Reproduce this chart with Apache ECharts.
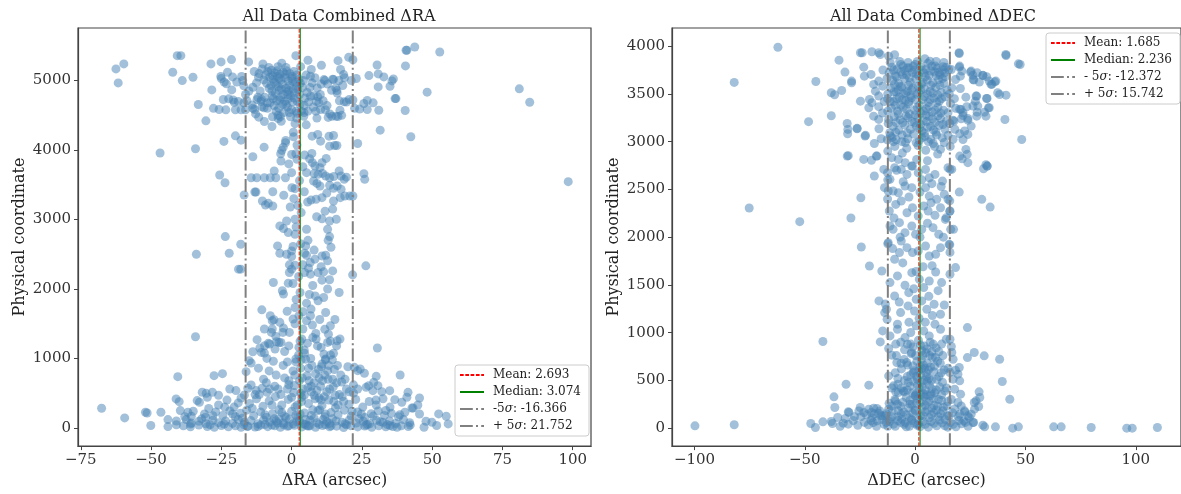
<!DOCTYPE html>
<html>
<head>
<meta charset="utf-8">
<title>All Data Combined</title>
<script src="https://cdn.jsdelivr.net/npm/echarts@6/dist/echarts.min.js"></script>
<style>
html, body { margin: 0; padding: 0; background: #fff; }
#main { width: 1181px; height: 494px; }
</style>
</head>
<body>
<div id="main"></div>
<script>
// ΔRA panel, points as [arcsec, physical coordinate]
var raTop = [
    [-62.5,5168],[-59.7,5240],[-61.7,4967],[-42.3,5120],[-40.7,5359],[-39.4,5359],[-38.9,5000],[-35.1,5048],[-33.2,4655],
    [-28.7,5240],[-28.4,4866],[-25.1,5269],[-25.2,5060],[-25.0,5030],[-21.4,5302],[-22.8,5120],[-23.2,4953],[-21.3,4866],
    [-21.0,5053],[-24.3,4727],[-22.4,4737],[-20.4,4688],[-23.4,4579],[-25.8,4583],[-17.4,5000],[-17.0,4924],[-16.4,4799],
    [-18.0,4579],[-15.3,5269],[-13.8,4904],[-12.5,4967],[-11.6,5101],[-10.2,5240],[-10.5,5168],[-12.3,4727],[-10.7,4727],
    [-13.2,4583],[-10.6,4622],[-8.7,4680],[-9.8,4608],[-11.7,4473],[-9.7,4411],[-7.0,4339],[-4.8,4454],[-3.7,4415],[-4.0,4483],
    [1.5,5359],[5.8,5292],[10.6,5220],[16.5,5287],[20.3,5335],[17.4,5160],[18.5,5086],[14.9,5014],[11.5,5014],[15.7,4895],
    [16.1,4856],[6.7,5062],[7.3,4967],[9.1,4895],[9.3,4766],[6.7,4775],[9.7,4680],[10.3,4583],[17.0,4708],[18.7,4694],
    [20.5,4727],[17.2,4573],[14.3,4487],[15.8,4487],[16.5,4483],[4.3,4487],[5.2,4363],
    [25.7,4670],[26.9,4713],[26.9,4583],[29.0,4680],[31.0,4573],[31.5,4286],[36.8,4741],[40.4,4569],[42.4,4191],[27.5,5072],
    [30.4,5225],[30.8,5096],[30.8,4909],[32.8,5053],[35.0,4918],[36.2,5024],[35.7,4995],[37.1,4741],[40.5,5211],[41.0,5436],
    [43.8,5484],[40.7,5436],[48.2,4833],[52.7,5412],[81.0,4881],[84.7,4688],
    [-8.5,5130],[-7.2,5150],[-6.0,5110],[-5.2,5140],[-4.1,5090],[-3.0,5120],[-1.8,5140],[-0.6,5100],[0.8,5130],[1.9,5080],
    [-7.8,5050],[-6.5,5020],[-5.1,5060],[-3.8,5010],[-2.4,5045],[-1.2,4990],[0.1,5030],[1.4,4980],[2.6,5020],[-8.9,4960],
    [-7.4,4930],[-6.1,4975],[-4.7,4910],[-3.3,4950],[-2.0,4890],[-0.7,4930],[0.6,4880],[1.8,4920],[3.1,4960],[-7.0,4850],
    [-5.8,4820],[-4.4,4860],[-3.0,4800],[-1.6,4840],[-0.3,4780],[1.0,4820],[-6.6,4740],[-5.3,4710],[-3.9,4760],[-2.5,4700],
    [-1.1,4740],[0.3,4690],[-7.7,4680],[-6.2,4640],[-4.6,4600],[-3.2,4660],[-1.5,4620],[0.0,4580],[1.6,4560],[3.5,4560],
    [4.4,4540],[2.0,4700],[4.8,4750],[5.5,4830],[3.8,4900],[4.2,5000],[5.2,5080],[6.0,4690],[7.7,4620],[8.6,4560],
    [11.2,4710],[12.6,4640],[13.6,4520],[11.8,5000],[12.8,4950],[14.2,4860],[10.2,4800],[10.5,4950],[8.3,5040],[-9.6,4760],
    [-10.9,4700],[-12.0,4760],[-14.0,4650],[-15.9,4710],[-11.2,4850],[-9.9,5010],[-2.0,5190],[0.2,5060],[-1.0,4860],
    [-4.8,4500],[-2.8,4540],[-0.4,4480],[1.2,4380],[2.0,4530],[5.8,4560],[9.0,4460],[13.0,4470],[17.8,4500],[16.2,4820],
    [18.2,4930],[19.5,4690],[21.8,4720],[22.4,4600],[24.2,4590],[23.0,5030],[21.2,5000],[18.8,5040],[16.8,5000],[14.6,5020],
    [-19.5,4980],[-17.8,5060],[-20.8,4720],[-19.0,4700],[-27.8,4600],[-24.0,4980],[-13.8,4600],[-30.5,4420],[21.8,5300],[-16.4,4580],
    [-9.2,5080],[-6.8,5070],[-4.5,5030],[-2.2,5090],[0.4,4990],[2.2,4870],[-8.0,4890],[-5.6,4950],[-3.6,4880],[-1.3,4800],
    [0.9,4750],[3.0,4660],[-6.9,4780],[-4.2,4720],[-2.0,4660],[-8.6,4600],[-5.5,4560],[-0.8,4540],[2.8,4800],[4.5,4640],
    [6.5,4900],[7.9,4780],[-11.8,5050],[-13.3,5130],[-8.1,5190],[-4.9,5200],[-6.8,4480],[1.8,4460],[-12.8,4520],[12.0,4580],
    [8.8,4700],[-17.0,4680],[-20.0,4580],[-15.2,4850],[7.0,5160],[3.2,5200],[-3.5,5250]
];
var raMid = [
    [7.3,4200],[9.3,4224],[10.3,4128],[13.3,4200],[14.9,4210],[16.1,4066],[13.5,4056],[15.3,4066],[0.6,4257],[0.7,4191],
    [-3.0,4042],[-2.1,4138],[-3.9,3947],[1.9,4071],[1.5,3947],[-13.8,3904],[-9.8,4042],[-24.1,4124],[-20.0,4205],[-18.0,4142],
    [23.5,4095],[-34.2,4019],[-46.8,3957],
    [98.4,3545],[-25.6,3640],[-23.7,3530],[-16.9,3353],[-14.4,3602],[-12.4,3602],[-9.7,3602],[-7.6,3602],[-5.6,3602],
    [-2.2,3602],[0.0,3674],[-13.1,3396],[-12.7,3396],[-6.7,3400],[-10.4,3267],[-9.3,3209],[-8.3,3233],[-6.7,3195],
    [-3.8,3842],[-3.5,3995],[-2.2,4105],[0.0,3937],[1.9,3866],[1.2,3444],[0.1,3458],[4.6,3928],[6.4,3875],[7.4,3818],
    [8.3,3770],[10.1,3746],[10.8,3818],[8.0,3660],[9.4,3650],[11.0,3664],[12.1,3626],[13.5,3602],[5.3,3674],[7.8,3554],
    [10.1,3482],[13.5,3492],[14.9,3449],[16.2,3482],[16.9,3698],[17.6,3626],[17.6,3434],[17.3,3315],[5.7,3252],[8.7,3291],
    [10.8,3315],[14.9,3267],[18.9,3339],[20.7,3339],[25.7,3660],[26.0,3578],[15.9,3003],[13.5,2979],[12.8,2860],[13.5,2754],
    [-1.8,2979],[1.2,3003],[1.6,2893],[5.3,2860],[-4.2,2908],[-2.9,2869],[-1.2,2812],[1.2,2788],[5.0,2620],[0.0,2548],
    [-4.2,2515],[0.5,2611],[0.0,2467],[-23.6,2754],[-22.2,2515],[-18.1,2644],[-18.1,2285],[-18.9,2285],[4.6,2515],[5.3,2486],
    [6.6,2381],[8.3,2429],[10.8,2476],[12.1,2486],[12.8,2405],[-0.8,2347],[0.0,2285],[1.2,2342],[4.0,2347],[4.6,2237],
    [6.7,2213],[9.4,2237],[11.4,2247],[10.8,2127],[13.5,2132],[16.9,1950],[-0.8,2237],[-1.2,2084],[0.5,2079],[-6.5,2093],
    [-3.3,1974],[-2.9,1926],[-10.6,1700],[-6.9,1542],[-2.9,1437],[-3.1,1375],[1.2,1734],[4.0,1672],[5.3,1796],[6.9,1710],
    [9.4,1830],[11.4,1878],[12.1,1662],[13.8,1471],[4.0,1423],[5.3,1542],[6.7,1614],[2.6,1614],[0.5,1566],[-0.8,1375],
    [8.7,1279],[10.5,1159],[12.8,1231],[14.9,1073],[16.2,1255],[17.2,1279],[2.6,1159],[4.6,1073],[-5.9,1135],[-8.3,1217],
    [-9.7,1078],[-11.3,1150],[-13.8,1097],[-7.2,1375],[-5.6,1317],[-7.6,1614],[-6.3,1557],[-6.9,1423],[-9.7,1423],
    [30.5,1150],[21.7,2203],[26.4,2333],[-33.9,2500],[-34.2,1312],
    [3.4,3100],[6.9,3280],[9.0,3520],[2.8,3560],[4.0,3760],[12.5,3380],[-0.5,3180],[15.0,3620],[18.7,3580],[19.5,3610],
    [10.8,3010],[13.0,2700],[14.0,2600],[6.0,2300],[8.4,1900],[12.8,2000],[3.0,1950],[1.6,1850],[7.4,1480],[10.0,1560],
    [11.8,1420],[3.6,1280],[16.0,1180],[13.1,1350],[-1.6,1680],[-4.2,1520],[-12.3,1270],[-3.8,1230],[21.8,3339],
    [2.5,1050],[4.5,1120],[9.2,1180],[11.5,1060],[13.8,1250],[7.5,1300],[3.0,1250],[-2.5,1100],[-4.5,1230],
    [-10.8,1087],[-9.6,1183],[-7.8,1207],[-5.4,1241],
    [0.8,3300],[2.2,3200],[-2.8,3350],[4.5,3400],[11.9,3120],[14.6,3150],[12.3,3880],[7.2,3950],[-6.2,3700],[-1.0,3800],
    [8.9,3040],[5.8,2700],[3.2,2650],[8.0,2560],[10.5,2320],[2.5,2180],[7.5,2050],[-1.8,2500],[-5.0,2620],[14.6,2260],
    [1.2,1500],[8.6,1360],[15.4,1560],[-1.0,1180],[5.6,1220],[13.8,1050],[-8.8,1000],[6.3,1920]
];
var raLow = [
    [-50.1,34],[-44.0,19],[-38.5,30],[-36.0,15],[-33.0,40],[-30.0,20],[-27.5,10],[-25.0,35],[-22.5,15],[-20.0,30],[-18.0,8],
    [-15.5,25],[-13.0,12],[-11.0,40],[-8.5,18],[-6.0,30],[-4.0,10],[-1.5,22],[1.0,38],[3.5,12],[6.0,28],[8.5,8],[11.0,35],
    [13.5,15],[16.0,25],[18.5,5],[21.0,32],[23.5,14],[26.0,28],[28.5,10],[31.0,30],[33.5,15],[35.0,35],[37.5,8],[41.5,20],
    [42.2,40],[47.1,10],[51.6,34],[55.7,57],[-41.0,45],[-29.0,45],[-17.0,48],[-9.5,50],[-2.8,45],[4.8,50],[12.0,48],
    [19.5,45],[27.0,50],[34.0,48],[39.0,30],
    [-41.0,100],[-37.5,120],[-35.7,70],[-33.0,95],[-30.5,60],[-28.0,110],[-26.0,75],[-23.5,100],[-21.0,65],[-19.0,120],
    [-16.8,80],[-14.5,105],[-12.0,60],[-10.0,115],[-7.8,85],[-5.5,100],[-3.0,70],[-0.8,125],[1.8,90],[4.0,60],[6.5,110],
    [9.0,75],[11.2,120],[13.5,65],[15.8,100],[18.0,80],[20.5,115],[23.0,70],[25.5,95],[27.8,60],[30.2,110],[32.5,80],
    [34.8,100],[37.0,65],[39.8,120],[42.0,75],[49.9,81],[47.8,96],
    [-67.6,283],[-59.4,144],[-52.0,225],[-51.4,215],[-46.5,225],[-39.6,249],[-36.9,225],[-35.7,168],[-31.0,200],[-30.6,153],
    [-27.0,230],[-24.5,180],[-22.0,245],[-20.0,160],[-18.2,210],[-16.0,255],[-13.5,175],[-11.0,230],[-9.0,150],[-6.8,205],
    [-4.5,260],[-2.5,170],[0.0,240],[2.2,155],[4.6,215],[7.0,180],[9.4,250],[11.8,160],[14.0,220],[16.5,190],[18.8,255],
    [21.2,170],[23.5,230],[26.0,150],[28.3,205],[30.8,245],[33.0,180],[35.5,210],[38.0,160],[40.3,225],[42.8,287],
    [45.5,200],[52.3,201],[55.0,168],
    [-41.1,417],[-40.0,378],[-33.6,393],[-32.8,369],[-30.0,440],[-26.0,330],[-23.0,400],[-20.5,300],[-18.0,430],[-15.0,350],
    [-12.5,420],[-10.2,310],[-8.0,390],[-5.8,450],[-3.5,330],[-1.2,410],[1.2,300],[3.6,440],[6.0,350],[8.4,420],[10.8,320],
    [13.2,400],[15.6,290],[18.0,450],[20.4,340],[22.8,410],[25.3,300],[27.6,380],[30.1,330],[32.5,420],[35.0,300],
    [36.7,407],[39.2,369],[41.0,441],[45.5,431],[43.2,287],[44.9,330],
    [-31.8,513],[-30.4,498],[-28.2,513],[-19.8,537],[-16.8,474],[-15.6,570],[-14.4,618],[-12.6,537],[-10.5,570],[-8.7,513],
    [-6.0,600],[-3.8,480],[-1.5,560],[1.0,610],[3.3,500],[5.8,580],[8.0,470],[10.3,600],[12.5,520],[14.8,590],[17.0,480],
    [19.5,560],[22.0,500],[26.5,584],[28.9,536],[30.7,608],[32.1,522],[34.9,536],[41.4,512],[27.4,608],[29.2,656],
    [-40.5,738],[-27.6,752],[-24.6,781],[-16.2,810],[-14.4,934],[-10.0,700],[-8.0,820],[-5.5,760],[-3.0,900],[-1.0,680],
    [1.5,950],[3.8,720],[6.0,860],[8.5,780],[10.8,920],[13.0,700],[15.2,840],[17.5,760],[20.0,880],[22.3,872],[23.5,824],
    [25.9,786],[30.1,742],[38.6,762],[24.4,848],[8.0,650],[12.0,980],[5.0,990],[0.5,820],[-6.5,960],[14.5,980],[17.8,660],
    [6.8,1000],[10.6,880],[12.8,820],[9.8,720],[6.2,680],[3.2,860],[1.1,760],[14.6,700],[16.3,900],[12.1,992],[1.5,992],
    [-15.1,968],[-2.0,150],[0.5,60],[3.0,200],[5.5,30],[8.0,140],[10.0,260],[12.5,90],[15.0,380],[-4.5,130],[-7.0,40],
    [2.0,330],[7.0,520],[9.8,430],[11.0,680],[-1.0,620],[4.0,560],
    [-36.0,55],[-32.0,130],[-28.0,175],[-24.0,55],[-21.0,200],[-17.5,140],[-14.0,280],[-12.0,20],[-9.5,190],[-7.0,330],
    [-5.0,70],[-3.5,220],[-1.0,30],[1.5,180],[3.5,380],[5.0,120],[7.5,260],[9.8,50],[12.0,200],[14.5,130],[16.5,330],
    [19.0,60],[21.5,240],[24.0,130],[26.5,40],[29.0,170],[31.5,90],[33.5,250],[36.0,20],[38.5,190],[-26.0,470],[-22.0,560],
    [-13.0,480],[-9.0,650],[-4.8,560],[-2.5,720],[2.8,680],[4.5,470],[7.0,600],[9.0,540],[11.6,450],[13.5,560],[16.0,650],
    [18.5,380],[20.5,520],[23.5,560],[-38.0,160],[-44.0,120],[-35.0,240],[-19.0,360],[-11.5,480],[0.0,440],[6.5,30],
    [10.5,400],[14.0,30],[2.8,100],[-6.2,130],[-15.8,20],[24.8,200],[30.0,400],[-29.5,280],[-23.8,300],[22.0,620],
    [15.5,470],[0.8,510],[-7.8,560],[5.5,750],[9.6,840],[11.8,760],[7.2,900],[3.4,980],[-1.5,950],[13.2,900],[-11.8,860],
    [19.0,700]
];

// ΔDEC panel
var decTop = [
    [-62.2,3989],[-82.0,3620],[41.2,3902],[47.6,3808],[48.3,3023],[40.7,3232],[41.2,3487],[38.3,3494],[36.1,3626],[34.4,3599],
    [30.7,3693],[32.4,3679],[25.1,3728],[26.3,3651],[23.0,3466],[27.6,3477],[32.4,3452],[20.5,3557],[20.8,3337],[23.4,3365],
    [28.1,3309],[27.3,3424],[33.2,3354],[16.6,3564],[18.3,3651],[20.0,3923],[20.0,3780],[20.5,3686],[17.1,3225],[21.7,3274],
    [23.9,3225],[21.7,3023],[23.0,2919],[21.3,2821],
    [4.4,3868],[6.7,3843],[9.2,3791],[12.7,3784],[15.2,3756],[13.4,3722],[16.4,3756],[20.2,3791],[21.2,3739],[25.4,3739],
    [26.2,3694],[28.1,3722],[30.7,3694],[26.6,3645],[29.1,3624],[33.6,3634],[36.6,3634],[34.8,3600],[37.4,3512],[27.9,3477],
    [32.6,3453],[28.4,3372],[26.2,3372],[31.4,3309],[33.6,3355],[32.1,3267],[23.9,3243],[20.9,3239],[27.9,3267],[17.6,3215],
    [21.7,3303],[20.2,3338],[14.9,3303],[46.8,3815],[41.1,3913],[19.9,3931],[14.9,3066],[17.2,3024],[20.2,3083],[22.4,3111],
    [25.4,3163],[23.9,3076],[20.2,2849],[23.6,2867],[23.9,2780],[32.6,2744],[32.1,2759],
    [-45.0,3630],[-34.5,3853],[-31.8,3728],[-28.8,3634],[-28.8,3617],[-38.0,3512],[-36.5,3491],[-33.3,3536],[-48.3,3209],
    [-38.0,3271],[-30.8,3191],[-30.5,3128],[-30.6,3083],[-26.3,3139],[-22.5,3066],[-30.3,2853],[-24.8,3931],[-24.0,3931],
    [-19.6,3941],[-23.3,3780],[-20.0,3704],[-23.0,3686],[-16.5,3931],[-15.8,3913],[-12.0,3895],[-9.3,3910],[-18.8,3599],
    [-16.5,3634],[-14.7,3581],[-18.0,3529],[-16.5,3477],[-24.8,3424],[-20.7,3442],[-19.6,3408],[-21.0,3355],[-16.5,3366],
    [-18.8,3267],[-16.5,3233],[-12.0,3233],[-12.2,3191],[-11.5,3094],[-10.5,3042],[-6.5,3808],[-3.4,3773],[0.0,3808],
    [-30.8,2849],[-23.3,2814],[-17.3,2849],[-12.4,2901],[-10.6,2832],[-7.6,2814],[-4.5,2780],[-1.6,2744],[0.7,2814],
    [-16.4,3135],[-18.5,2981],[-19.8,2804],[-17.6,2849],[-26.3,3135],[-22.7,3058],
    [-10.5,3780],[-8.2,3760],[-5.5,3790],[-2.8,3770],[-0.5,3750],[2.4,3785],[5.0,3760],[7.6,3790],[10.1,3770],[12.5,3750],
    [14.0,3780],[-11.8,3720],[-9.0,3690],[-6.4,3730],[-3.9,3700],[-1.2,3725],[1.5,3690],[3.9,3720],[6.3,3695],[8.8,3730],
    [11.2,3700],[13.6,3680],[-10.2,3640],[-7.5,3610],[-4.8,3660],[-2.2,3620],[0.3,3655],[2.9,3600],[5.5,3645],[8.0,3615],
    [10.6,3650],[13.0,3610],[-12.8,3660],[-11.0,3560],[-8.6,3520],[-6.0,3575],[-3.5,3530],[-1.0,3565],[1.7,3510],[4.2,3555],
    [6.8,3525],[9.4,3570],[11.8,3515],[14.5,3540],[-5.2,3500],[-2.0,3480],[0.8,3495],[-12.5,3450],[-9.8,3420],[-7.2,3465],
    [-4.4,3430],[-1.7,3460],[3.3,3440],[5.9,3410],[8.5,3455],[11.0,3425],[13.6,3470],[-6.5,3380],[-3.0,3395],[2.0,3380],
    [-10.8,3350],[-8.0,3320],[-5.4,3360],[-0.2,3330],[2.6,3300],[5.1,3345],[7.7,3310],[10.3,3360],[12.9,3330],[-2.6,3290],
    [-9.5,3260],[-6.8,3230],[-4.1,3270],[-1.4,3210],[1.2,3250],[3.8,3220],[6.4,3265],[9.0,3200],[11.5,3245],[14.2,3215],
    [-10.0,3160],[-7.4,3120],[-4.7,3175],[-2.1,3130],[0.5,3165],[3.1,3110],[5.7,3150],[8.3,3120],[10.9,3170],[13.5,3130],
    [-11.2,3060],[-8.6,3020],[-5.9,3070],[-3.3,3030],[-0.7,3080],[1.9,3010],[4.5,3055],[7.1,3025],[9.7,3070],[12.3,3040],
    [-6.0,3000],[0.5,2990],[6.0,3000],[-9.2,2950],[-3.8,2930],[1.3,2960],[4.8,2910],[8.8,2950],[11.5,2920],
    [15.5,3500],[16.0,3400],[15.7,3190],[15.9,2950],[-12.4,3500],[-12.4,3320],[-12.6,3020],
    [-11.3,3830],[-7.0,3840],[-3.2,3830],[1.0,3840],[5.8,3820],[9.5,3840],[13.0,3830],[-9.8,3750],[-4.6,3745],[-0.9,3790],
    [3.2,3750],[7.0,3740],[10.8,3725],[-8.4,3680],[-5.8,3700],[-2.6,3670],[0.6,3710],[4.6,3680],[9.6,3690],[12.4,3660],
    [-9.4,3600],[-6.8,3580],[-3.0,3590],[1.4,3580],[3.6,3620],[7.2,3590],[11.2,3590],[-9.6,3520],[-7.6,3540],[-4.2,3510],
    [-1.6,3540],[2.5,3540],[5.5,3500],[8.0,3510],[10.2,3490],[-11.4,3420],[-8.4,3450],[-5.8,3440],[-2.8,3420],[0.0,3440],
    [4.2,3470],[6.8,3440],[9.7,3410],[12.0,3450],[-9.0,3380],[-4.0,3340],[1.0,3360],[3.8,3320],[6.2,3370],[9.0,3330],
    [11.6,3300],[-7.6,3290],[-3.2,3250],[0.0,3280],[4.9,3280],[7.8,3240],[10.4,3270],[-8.6,3200],[-5.6,3200],[-0.2,3200],
    [2.4,3180],[5.2,3210],[12.6,3180],[-8.8,3100],[-3.6,3090],[2.0,3140],[4.2,3090],[7.0,3160],[9.4,3100],[-9.8,3000],
    [-4.4,2990],[3.0,3040],[8.2,2980],[13.2,2990],[-14.6,3750],[-14.0,3420],[-14.8,3300],[17.8,3450],[18.4,3350],
    [18.0,3130],[-15.4,3030]
];
var decMid = [
    [-75.2,2305],[-52.3,2162],[31.0,2716],[32.7,2744],[30.2,2396],[34.0,2315],[20.0,2472],[15.8,2709],[17.4,2082],[18.3,1681],
    [23.7,1053],[-18.5,2640],[-24.6,2413],[-29.1,2200],[-24.4,1897],[-20.7,1698],
    [-14.2,2709],[-12.5,2674],[-11.4,2605],[-9.3,2727],[-6.3,2709],[-3.7,2657],[-1.2,2744],[1.4,2674],[4.7,2709],[6.4,2622],
    [9.0,2657],[12.4,2587],[14.9,2727],[16.6,2709],
    [-13.9,2518],[-12.2,2483],[-10.0,2483],[-7.6,2465],[-4.6,2535],[-1.5,2518],[2.2,2472],[4.7,2518],[6.4,2430],[9.8,2396],
    [13.2,2448],[14.9,2396],
    [-11.7,2274],[-8.8,2343],[-6.3,2378],[-3.7,2256],[-1.2,2308],[1.4,2221],[3.9,2326],[5.9,2274],[9.0,2228],[11.5,2308],
    [13.7,2186],[15.8,2274],
    [-11.4,2117],[-10.0,2082],[-7.1,2152],[-4.6,2047],[-1.5,2117],[0.2,2030],[3.0,2082],[5.6,2145],[8.1,2099],[10.7,2030],
    [16.1,2082],[14.1,2204],
    [-12.2,1942],[-6.3,1960],[-3.7,1890],[-1.2,1838],[1.4,1855],[4.7,1907],[6.4,1803],[9.3,1820],[11.5,1890],[15.4,1925],
    [-7.1,1838],[-9.3,1768],
    [-15.1,1646],[-11.4,1524],[-8.0,1594],[-4.6,1496],[-1.5,1628],[1.9,1559],[3.9,1472],[6.4,1541],[9.3,1635],[12.0,1524],
    [15.8,1611],[-2.9,1419],[0.5,1350],
    [-16.4,1332],[-13.0,1245],[-9.3,1384],[-6.6,1210],[-3.2,1280],[-0.3,1227],[3.0,1332],[5.3,1245],[8.6,1297],[11.5,1193],
    [-12.7,1140],[-8.0,1088],
    [-14.7,1018],[-11.4,966],[-8.0,1036],[-4.6,948],[-2.0,1001],[0.5,1071],[3.9,1018],[6.4,966],[9.0,1088],[11.5,1036],
    [14.1,931],
    [-12.4,2600],[-12.5,2400],[-12.4,1930],[15.7,2380],[15.7,2270],[15.8,1840],[15.7,1920],[-13.5,1300],[-13.8,1210],
    [-5.4,2580],[7.6,2560],[-2.8,2420],[11.8,2530],[-9.6,2200],[7.2,2360],[2.2,2000],[12.8,2000],[-5.6,1730],[7.7,1700],
    [-0.6,1460],[10.4,1440],[-7.2,1320],[6.2,1380],[13.2,1290],[1.8,1150],[4.6,1110],[-2.8,1110],[7.8,1180],[-5.8,2880],
    [5.6,2800],[10.2,2870],[-8.4,2700],[3.0,2600],[-6.8,2000],[0.4,1640],[3.6,1690],[-10.2,1880]
];
var decLow = [
    [-41.8,907],[-99.8,24],[-82.0,35],[-47.3,49],[-45.2,7],[-41.8,66],[-36.8,328],[-36.4,216],[-35.1,112],[-31.7,101],
    [-31.3,460],[-30.3,171],[-30.0,164],[-30.3,42],[-24.6,119],[-24.9,216],[-23.2,164],[-21.0,450],[-21.2,35],[-19.8,164],
    [-19.0,59],[-17.3,206],[-15.6,129],[31.3,757],[38.3,722],[39.5,488],[42.9,303],[29.0,380],[27.6,286],[26.8,268],
    [29.3,321],[28.8,227],[31.5,14],[36.4,14],[44.2,0],[46.8,14],[62.8,14],[66.2,14],[79.8,7],[95.9,0],[98.4,0],[109.8,7],
    [23.7,739],[26.8,792],[18.3,607],[20.0,635],[15.8,931],[16.6,792],[14.9,628],
    [-37.5,49],[-32.6,52],[-21.0,199],[-18.8,209],[-17.3,76],[-16.5,157],[-14.7,129],[-13.1,60],
    [-15.8,903],[-12.0,834],[-10.6,764],[-8.3,687],[-12.0,547],[-9.8,443],[-7.6,373],[-9.0,286],[-10.6,233],[-12.0,199],
    [-7.6,181],[-6.1,94],[-4.5,60],[-9.8,42],[-11.3,94],[-13.5,129],[-3.5,879],[-1.6,792],[-3.8,687],[-0.8,583],
    [-3.1,478],[-5.3,390],[0.0,338],[-2.3,251],[0.0,181],[-1.6,94],[1.4,42],
    [16.4,855],[17.2,722],[15.7,583],[17.2,513],[19.4,565],[20.2,495],[17.9,408],[20.6,356],[19.4,269],[20.9,233],
    [22.4,181],[20.2,146],[23.9,129],[22.1,76],[26.2,59],[25.4,146],[26.9,199],[30.7,31],
    [-6.5,900],[-2.0,880],[1.5,920],[4.2,860],[6.8,900],[9.5,840],[12.0,880],[3.0,810],[-4.8,820],[7.5,800],
    [-8.5,760],[-5.0,720],[-1.8,780],[0.8,700],[3.5,760],[5.5,680],[7.8,740],[10.2,700],[12.6,760],[2.2,650],[4.8,790],
    [-3.4,660],
    [-9.0,580],[-6.2,620],[-3.6,540],[-0.5,600],[2.5,560],[4.3,630],[6.2,520],[8.4,590],[10.8,540],[13.2,610],[1.0,510],
    [5.0,580],[3.8,500],[7.0,640],
    [-10.5,420],[-7.8,460],[-5.0,380],[-2.2,440],[0.4,360],[2.8,480],[4.6,400],[6.5,450],[8.8,370],[11.2,430],[13.5,390],
    [1.8,420],[3.7,360],[5.5,490],[7.6,410],[-0.8,490],
    [-11.8,260],[-9.2,300],[-6.6,230],[-4.0,320],[-1.4,250],[1.2,310],[3.2,220],[5.0,280],[6.8,340],[8.6,240],[10.6,300],
    [12.8,220],[14.8,280],[2.4,270],[4.2,330],[-3.0,210],[7.5,210],[0.0,340],
    [-13.0,150],[-10.4,180],[-7.8,120],[-5.2,170],[-2.6,110],[0.0,190],[2.5,130],[4.5,170],[6.5,110],[8.5,160],[10.5,120],
    [12.6,180],[14.6,130],[17.0,160],[19.5,120],[22.5,170],[24.5,110],[-16.0,180],[-19.5,110],[-22.0,140],
    [-14.0,40],[-11.5,70],[-9.0,20],[-6.5,60],[-4.0,15],[-1.5,80],[1.0,30],[3.5,70],[6.0,10],[8.5,50],[11.0,85],[13.5,25],
    [16.0,60],[18.5,15],[21.0,45],[24.0,20],[26.5,60],[-17.5,20],[-20.0,80],[-26.0,30],[-28.0,80],[-34.0,20],[-38.0,70],
    [-8.8,880],[-1.0,850],[2.4,870],[5.4,830],[8.2,880],[10.8,800],[0.2,760],[2.8,720],[6.6,760],[9.2,740],[11.4,680],
    [-6.4,680],[-1.0,650],[1.6,600],[3.8,660],[6.0,610],[8.8,650],[11.8,580],[-7.8,520],[-4.8,500],[-2.0,560],[0.6,540],
    [3.0,620],[5.2,540],[7.4,500],[9.8,510],[12.4,480],[-8.8,380],[-6.2,420],[-3.6,400],[-1.2,370],[1.0,450],[3.2,430],
    [5.0,350],[7.2,360],[9.6,400],[12.0,350],[14.2,420],[-8.0,250],[-5.6,270],[-2.4,290],[0.6,260],[2.6,350],[4.6,240],
    [6.4,280],[8.4,310],[10.2,230],[12.0,290],[14.4,230],[16.4,300],[-10.4,120],[-6.4,150],[-4.0,140],[-1.2,160],[1.4,100],
    [3.6,130],[5.6,190],[7.4,140],[9.6,190],[11.6,150],[13.6,90],[15.4,130],[18.0,200],[-12.4,20],[-7.8,80],[-5.0,40],
    [-2.6,20],[-0.4,50],[2.2,15],[4.6,40],[7.2,70],[9.8,25],[12.2,55],[14.8,10],[17.2,40],[19.8,80],[22.8,60],[-15.0,90],
    [-18.4,150],[-23.0,60],[-25.5,180],[-27.5,120]
];

// summary lines: mean, median, -5 sigma, +5 sigma
var raStats = [2.693, 3.074, -16.366, 21.752];
var decStats = [1.685, 2.236, -12.372, 15.742];
var raNames = ['Mean: 2.693', 'Median: 3.074', '-5σ: -16.366', '+ 5σ: 21.752'];
var decNames = ['Mean: 1.685', 'Median: 2.236', '- 5σ: -12.372', '+ 5σ: 15.742'];

var raXTicks = [-75, -50, -25, 0, 25, 50, 75, 100];
var raYTicks = [0, 1000, 2000, 3000, 4000, 5000];
var decXTicks = [-100, -50, 0, 50, 100];
var decYTicks = [0, 500, 1000, 1500, 2000, 2500, 3000, 3500, 4000];

var raXRange = [-76, 106.5], raYRange = [-262, 5757];
var decXRange = [-110.2, 120.5], decYRange = [-188, 4190];

var FONT = 'DejaVu Serif';
var AXIS = '#444';

function minus(v) { return String(v).replace('-', '\u2212'); }

function makeAxis(idx, range, ticks, name, gap) {
    return {
        type: 'value', gridIndex: idx, min: range[0], max: range[1],
        name: name, nameLocation: 'middle', nameGap: gap,
        nameTextStyle: { fontFamily: FONT, fontSize: 16, color: '#222' },
        axisLine: { show: true, onZero: false, lineStyle: { color: AXIS, width: 1.2 } },
        axisTick: { show: true, inside: false, length: 4, customValues: ticks, lineStyle: { color: AXIS, width: 1 } },
        axisLabel: { customValues: ticks, margin: 7, formatter: minus, fontFamily: FONT, fontSize: 15, color: '#333' },
        splitLine: { show: false }
    };
}

var lineStyles = [
    { color: '#ff0000', width: 1, type: [3.7, 1.6] },
    { color: '#008000', width: 1, type: 'solid' },
    { color: '#808080', width: 2, type: [12.8, 3.2, 2, 3.2] },
    { color: '#808080', width: 2, type: [12.8, 3.2, 2, 3.2] }
];

function statLines(stats, names, idx, yRange) {
    return stats.map(function (v, i) {
        return {
            type: 'line', name: names[i], xAxisIndex: idx, yAxisIndex: idx,
            data: [[v, yRange[0]], [v, yRange[1]]],
            symbol: 'none', silent: true, z: 5,
            color: lineStyles[i].color,
            lineStyle: lineStyles[i]
        };
    });
}

function scatter(points, idx) {
    return {
        type: 'scatter', xAxisIndex: idx, yAxisIndex: idx, data: points,
        symbolSize: 9, silent: true, z: 2,
        itemStyle: { color: '#4682b4', opacity: 0.5 }
    };
}

function makeLegend(names, left, top) {
    return {
        data: names, orient: 'vertical', left: left, top: top,
        itemWidth: 24, itemHeight: 13, itemGap: 5,
        padding: [4, 8, 4, 4], selectedMode: false,
        itemStyle: { opacity: 0 },
        backgroundColor: 'rgba(255,255,255,0.8)', borderColor: '#cccccc', borderWidth: 1, borderRadius: 3,
        textStyle: {
            fontFamily: FONT, fontSize: 12, color: '#222', padding: [0, 0, 0, 4],
            rich: { s: { fontFamily: FONT, fontSize: 12, fontStyle: 'italic', color: '#222' } }
        },
        formatter: function (n) { return n.replace('σ', '{s|σ}'); }
    };
}

var chart = echarts.init(document.getElementById('main'));
chart.setOption({
    animation: false,
    backgroundColor: '#ffffff',
    title: [
        { text: 'All Data Combined ΔRA', left: 334, top: 4, textAlign: 'center',
          textStyle: { fontFamily: FONT, fontSize: 16, fontWeight: 'normal', color: '#222' } },
        { text: 'All Data Combined ΔDEC', left: 928, top: 4, textAlign: 'center',
          textStyle: { fontFamily: FONT, fontSize: 16, fontWeight: 'normal', color: '#222' } }
    ],
    grid: [
        { left: 78, top: 28, width: 513, height: 419, show: true, borderColor: AXIS, borderWidth: 1.2 },
        { left: 672, top: 28, width: 513, height: 419, show: true, borderColor: AXIS, borderWidth: 1.2 }
    ],
    xAxis: [
        makeAxis(0, raXRange, raXTicks, 'ΔRA (arcsec)', 26),
        makeAxis(1, decXRange, decXTicks, 'ΔDEC (arcsec)', 26)
    ],
    yAxis: [
        makeAxis(0, raYRange, raYTicks, 'Physical coordinate', 50),
        makeAxis(1, decYRange, decYTicks, 'Physical coordinate', 50)
    ],
    legend: [
        makeLegend(raNames, 455, 365),
        makeLegend(decNames, 1046, 33)
    ],
    series: [
        scatter(raTop.concat(raMid, raLow), 0),
        scatter(decTop.concat(decMid, decLow), 1)
    ].concat(statLines(raStats, raNames, 0, raYRange), statLines(decStats, decNames, 1, decYRange))
});
</script>
</body>
</html>
